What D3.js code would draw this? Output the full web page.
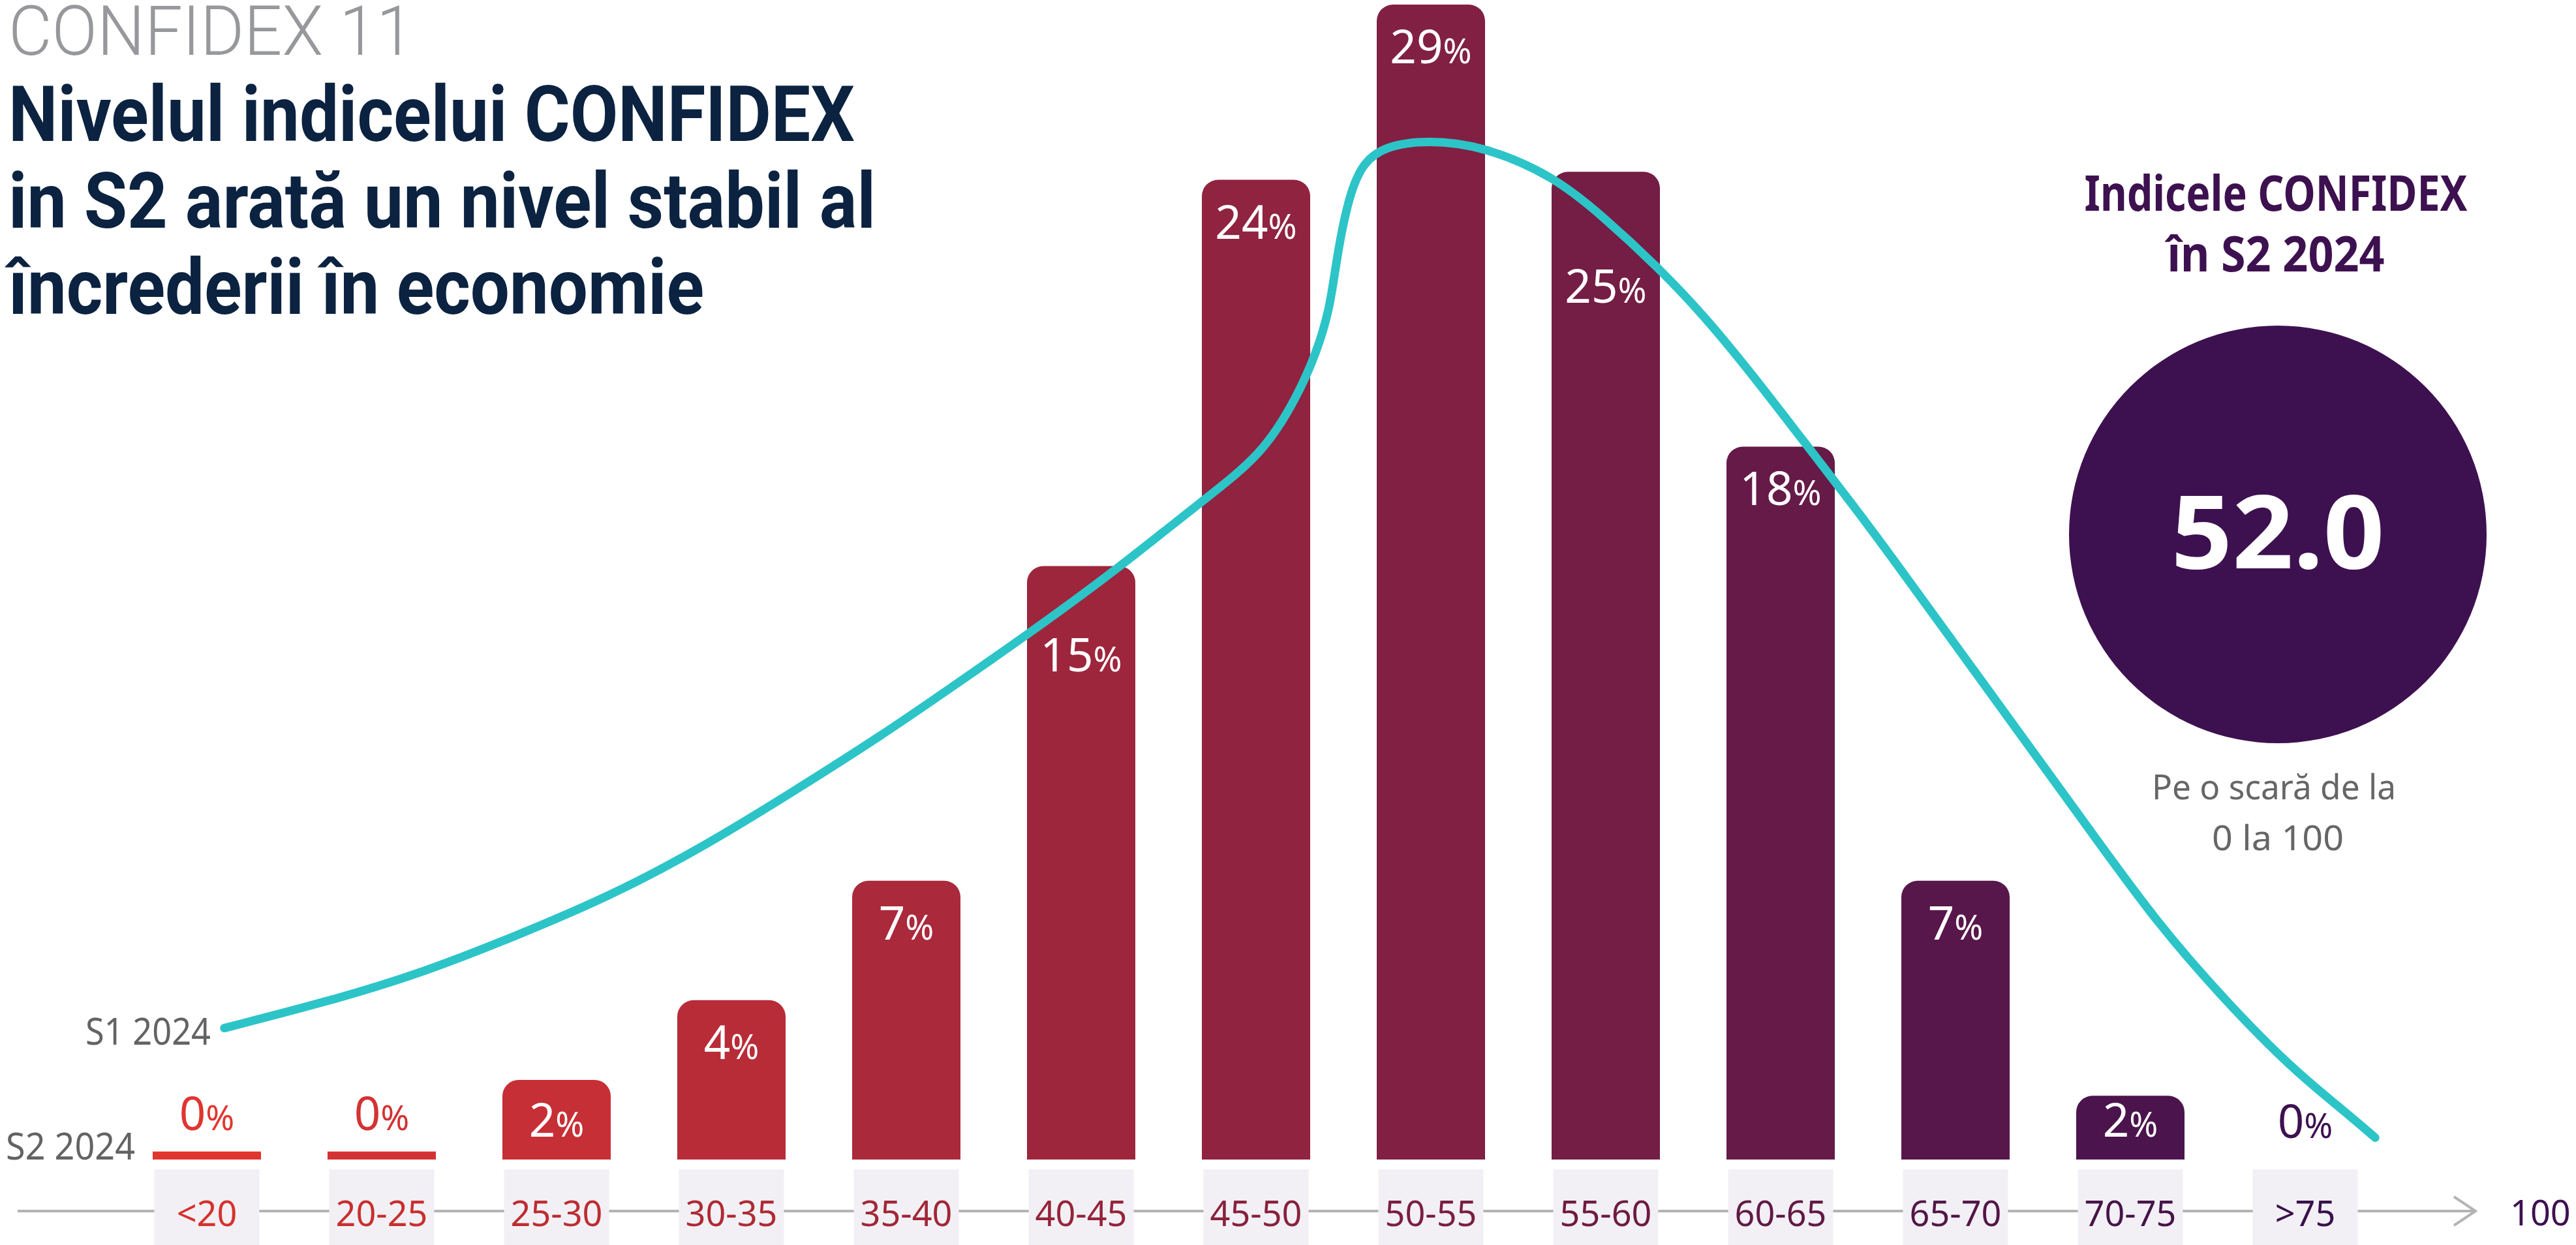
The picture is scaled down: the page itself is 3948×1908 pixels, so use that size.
<!DOCTYPE html>
<html>
<head>
<meta charset="utf-8">
<script src="https://cdn.jsdelivr.net/npm/d3@7"></script>
<style>
  body { margin: 0; background: #fff; }
  svg { display: block; }
</style>
</head>
<body>
<div id="chart"></div>
<script>
// Canvas size
const width = 3948;
const height = 1908;

// Data
const categories = ["<20", "20-25", "25-30", "30-35", "35-40", "40-45", "45-50", "50-55", "55-60", "60-65", "65-70", "70-75", ">75"];
const s2Values = [0.2, 0.2, 2.0, 4.0, 7.0, 14.9, 24.6, 29.0, 24.8, 17.9, 7.0, 1.6, 0];   // bar heights
const s2Labels = [0, 0, 2, 4, 7, 15, 24, 29, 25, 18, 7, 2, 0];                          // printed percentages
// S1 2024 curve, traced: score on the 0-100 scale and share in %
const s1Scores = [18.0, 21.1, 23.7, 26.3, 29.0, 31.6, 34.2, 36.8, 38.7, 41.0, 43.5, 45.9, 47.7, 48.7, 49.2, 49.6, 49.8, 50.1, 50.5, 51.2, 52.4, 54.0, 56.0, 57.4, 59.0, 60.3, 61.7, 63.1, 64.6, 65.7, 67.6, 69.5, 71.4, 73.3, 75.2, 77.1, 78.5, 79.5];
const s1Values = [3.3, 4.0, 4.7, 5.6, 6.6, 7.8, 9.2, 10.65, 11.8, 13.2, 14.8, 16.5, 17.7, 19.2, 20.2, 21.3, 22.6, 24.0, 25.0, 25.45, 25.6, 25.45, 24.7, 23.7, 22.4, 21.2, 19.7, 18.1, 16.4, 15.1, 12.8, 10.5, 8.2, 5.9, 4.0, 2.3, 1.3, 0.55];
const seriesNames = ["S1 2024", "S2 2024"];
const kicker = "CONFIDEX 11";
const titleLines = ["Nivelul indicelui CONFIDEX", "in S2 arată un nivel stabil al", "încrederii în economie"];
const panelTitle = ["Indicele CONFIDEX", "în S2 2024"];
const indexValue = "52.0";
const panelNote = ["Pe o scară de la", "0 la 100"];
const axisEnd = "100";

// Colours
const cyan = "#2dc4c8";
const purple = "#3d1150";
const navy = "#0b2240";
const color = d3.scaleLinear().domain([0, categories.length - 1]).range(["#e1352f", purple]);

const svg = d3.select("#chart")
    .append("svg")
    .attr("width", width)
    .attr("height", height);

// Scales
const x = d3.scalePoint().domain(categories).range([317, 3533]);
const xScore = d3.scaleLinear().domain([17.5, 77.5]).range([317, 3533]);
const y = d3.scaleLinear().domain([0, 29]).range([1777, 7]);
const barW = 166;
const boxW = 161;

// Title block
svg.append("text")
    .attr("x", 13).attr("y", 84)
    .attr("textLength", 621).attr("lengthAdjust", "spacingAndGlyphs")
    .style("font-family", "Roboto").style("font-weight", 300)
    .style("font-size", "106px").style("fill", "#97989c")
    .text(kicker);

const titleWidths = [1297, 1329, 1066];
titleLines.forEach((t, i) => {
    svg.append("text")
        .attr("x", 13).attr("y", 216 + i * 132.5)
        .attr("textLength", titleWidths[i]).attr("lengthAdjust", "spacingAndGlyphs")
        .style("font-family", "Roboto").style("font-weight", 700)
        .style("font-size", "118px").style("fill", navy)
        .text(t);
});

// Axis line with arrow
const axisY = 1856;
svg.append("line")
    .attr("x1", 27).attr("x2", 3794)
    .attr("y1", axisY).attr("y2", axisY)
    .style("stroke", "#b4b4b4").style("stroke-width", 4);
svg.append("path")
    .attr("d", `M3761,${axisY - 22} L3794,${axisY} L3761,${axisY + 22}`)
    .style("fill", "none").style("stroke", "#b4b4b4").style("stroke-width", 4);
svg.append("text")
    .attr("x", 3847).attr("y", 1878)
    .style("font-family", "Noto Sans").style("font-size", "54px").style("fill", purple)
    .text(axisEnd);

// Category boxes and labels
const cat = svg.append("g").selectAll("g")
    .data(categories)
    .enter().append("g");
cat.append("rect")
    .attr("x", (d) => x(d) - boxW / 2)
    .attr("y", 1792)
    .attr("width", boxW)
    .attr("height", height - 1792)
    .style("fill", "#f2f0f5");
cat.append("text")
    .attr("x", (d) => x(d))
    .attr("y", 1879)
    .attr("text-anchor", "middle")
    .style("font-family", "Noto Sans").style("font-size", "54px")
    .style("fill", (d, i) => d3.color(color(i)).darker(0.15))
    .text((d) => d);

// Bars with rounded tops
function barPath(x0, y0, w, h) {
    if (h <= 0) return "";
    const r = h > 50 ? 25 : 0;
    if (r === 0) return `M${x0},${y0}h${w}v${h}h${-w}Z`;
    return `M${x0},${y0 + h}V${y0 + r}A${r},${r} 0 0 1 ${x0 + r},${y0}H${x0 + w - r}` +
        `A${r},${r} 0 0 1 ${x0 + w},${y0 + r}V${y0 + h}Z`;
}

svg.append("g").selectAll("path")
    .data(s2Values)
    .enter().append("path")
    .attr("d", (d, i) => barPath(x(categories[i]) - barW / 2, y(d), barW, y(0) - y(d)))
    .style("fill", (d, i) => color(i));

// S1 2024 curve
const s1 = s1Scores.map((s, i) => [s, s1Values[i]]);
const curve = svg.append("path")
    .datum(s1)
    .attr("d", d3.line()
        .x((d) => xScore(d[0]))
        .y((d) => y(d[1]))
        .curve(d3.curveBasis))
    .style("fill", "none")
    .style("stroke", cyan)
    .style("stroke-width", 13)
    .style("stroke-linecap", "round");

// sample the drawn curve so labels can step out of its way
const node = curve.node();
const total = node.getTotalLength();
const samples = d3.range(0, total, 3).map((l) => node.getPointAtLength(l));
function curveSpan(xa, xb) {
    const ys = samples.filter((p) => p.x >= xa && p.x <= xb).map((p) => p.y);
    return ys.length ? [d3.min(ys), d3.max(ys)] : null;
}

// Value labels
const labels = svg.append("g");
s2Values.forEach((v, i) => {
    const cx = x(categories[i]);
    const top = y(v);
    const inside = y(0) - top > 50;
    let base = inside ? Math.min(top + 90, y(0) - 35) : top - 33;
    if (inside) {
        const span = curveSpan(cx - 62, cx + 62);
        if (span && span[1] + 6 > base - 54 && span[0] - 6 < base + 4) {
            base = span[1] + 6 + 66;
        }
    }
    const t = labels.append("text")
        .attr("x", cx).attr("y", base)
        .attr("text-anchor", "middle")
        .style("font-family", "Noto Sans")
        .style("fill", inside ? "#fff" : color(i));
    t.append("tspan").style("font-size", "71px").text(s2Labels[i]);
    t.append("tspan").style("font-size", "53px").text("%");
});

// Series labels
svg.append("text")
    .attr("x", 131).attr("y", 1601)
    .attr("textLength", 192).attr("lengthAdjust", "spacingAndGlyphs")
    .style("font-family", "Noto Sans").style("font-size", "57px").style("fill", "#636363")
    .text(seriesNames[0]);
svg.append("text")
    .attr("x", 9).attr("y", 1777)
    .attr("textLength", 198).attr("lengthAdjust", "spacingAndGlyphs")
    .style("font-family", "Noto Sans").style("font-size", "57px").style("fill", "#636363")
    .text(seriesNames[1]);

// Right panel
const px = 3488;
svg.append("text")
    .attr("x", px).attr("y", 323).attr("text-anchor", "middle")
    .attr("textLength", 587).attr("lengthAdjust", "spacingAndGlyphs")
    .style("font-family", "Noto Sans").style("font-weight", 700)
    .style("font-size", "75px").style("fill", purple)
    .text(panelTitle[0]);
svg.append("text")
    .attr("x", px).attr("y", 416).attr("text-anchor", "middle")
    .attr("textLength", 333).attr("lengthAdjust", "spacingAndGlyphs")
    .style("font-family", "Noto Sans").style("font-weight", 700)
    .style("font-size", "75px").style("fill", purple)
    .text(panelTitle[1]);
svg.append("circle")
    .attr("cx", 3491).attr("cy", 819).attr("r", 320)
    .style("fill", purple);
svg.append("text")
    .attr("x", 3491).attr("y", 871).attr("text-anchor", "middle")
    .attr("textLength", 327).attr("lengthAdjust", "spacingAndGlyphs")
    .style("font-family", "Noto Sans").style("font-weight", 700)
    .style("font-size", "156px").style("fill", "#fff")
    .text(indexValue);
svg.append("text")
    .attr("x", 3485).attr("y", 1225).attr("text-anchor", "middle")
    .attr("textLength", 374).attr("lengthAdjust", "spacingAndGlyphs")
    .style("font-family", "Noto Sans").style("font-size", "53px").style("fill", "#666")
    .text(panelNote[0]);
svg.append("text")
    .attr("x", 3491).attr("y", 1303).attr("text-anchor", "middle")
    .attr("textLength", 202).attr("lengthAdjust", "spacingAndGlyphs")
    .style("font-family", "Noto Sans").style("font-size", "53px").style("fill", "#666")
    .text(panelNote[1]);
</script>
</body>
</html>
